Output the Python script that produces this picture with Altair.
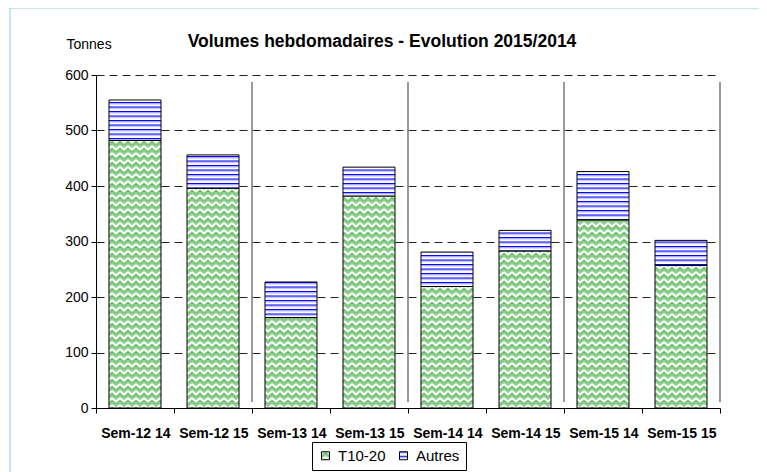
import jinja2
import altair as alt
import pandas as pd

# ---- data -------------------------------------------------------------------
weeks = ["Sem-12 14", "Sem-12 15", "Sem-13 14", "Sem-13 15",
         "Sem-14 14", "Sem-14 15", "Sem-15 14", "Sem-15 15"]
t1020 = [482, 396, 163, 382, 219, 283, 339, 257]
autres = [73, 60, 64, 52, 62, 37, 87, 45]
series = ["T10-20", "Autres"]
y_ticks = [0, 100, 200, 300, 400, 500, 600]

rows = []
for w, a, b in zip(weeks, t1020, autres):
    rows.append({"week": w, "serie": series[0], "value": a, "ord": 0})
    rows.append({"week": w, "serie": series[1], "value": b, "ord": 1})
df = pd.DataFrame(rows)
sep_df = pd.DataFrame({"week": weeks[1::2]})

FONT = "Liberation Sans"
W, H = 624, 333

xscale = alt.Scale(domain=weeks, paddingInner=0, paddingOuter=0)

frame = alt.Chart(pd.DataFrame({"k": [0]})).mark_rect(
    fill="white", fillOpacity=0, stroke="#8ccbea", strokeWidth=1
).encode(x=alt.value(-86), x2=alt.value(666), y=alt.value(-67), y2=alt.value(420))

sep = alt.Chart(sep_df).mark_rule(color="#777777", strokeWidth=1.5).encode(
    x=alt.X("week:N", scale=xscale, bandPosition=1),
    y=alt.value(7),
    y2=alt.value(327),
)

bars = alt.Chart(df).mark_bar(
    stroke="black", strokeWidth=1, width=alt.RelativeBandSize(0.667)
).encode(
    x=alt.X("week:N", scale=xscale,
            axis=alt.Axis(title=None, labelAngle=0, labelFontSize=14,
                          labelFontWeight="bold", labelColor="black",
                          labelPadding=20, labelOffset=35, tickBand="extent",
                          tickSize=5, tickColor="black", domainColor="black",
                          grid=False)),
    y=alt.Y("value:Q", stack="zero", scale=alt.Scale(domain=[0, 600], nice=False),
            axis=alt.Axis(values=y_ticks, title="Tonnes", titleAngle=0,
                          titleX=-30, titleY=-27, titleAlign="left",
                          titleBaseline="alphabetic", titleFontSize=14,
                          titleFontWeight="normal", titleColor="black",
                          labelFontSize=14, labelColor="black", labelPadding=3,
                          tickSize=5, tickColor="black", domainColor="black",
                          grid=True, gridDash=[8, 5], gridColor="#222222",
                          gridWidth=1)),
    color=alt.Color("serie:N",
                    scale=alt.Scale(domain=series, range=["url(#pgreen)", "url(#pblue)"]),
                    legend=alt.Legend(title=None, orient="none", legendX=216, legendY=367,
                                      direction="horizontal", symbolType="square",
                                      symbolSize=64, symbolStrokeColor="black",
                                      symbolStrokeWidth=1, symbolOpacity=1,
                                      labelFontSize=15, labelColor="black",
                                      strokeColor="black", padding=6,
                                      columnPadding=10, labelOffset=5)),
    order=alt.Order("ord:Q"),
)

chart = alt.layer(frame, sep, bars).properties(
    width=W, height=H,
    title=alt.TitleParams("Volumes hebdomadaires - Evolution 2015/2014",
                          fontSize=17.5, fontWeight="bold", font=FONT,
                          anchor="middle", dx=-26, offset=-56.5,
                          baseline="alphabetic", color="black"),
    padding={"left": 88, "top": 67, "right": 45, "bottom": 80},
    autosize=alt.AutoSizeParams(type="none"),
).configure(font=FONT).configure_view(strokeWidth=0)

TEMPLATE = jinja2.Template("""<!DOCTYPE html>
<html>
<head>
  <meta charset="utf-8">
  <style>
    html, body { overflow: hidden; }
    #{{ output_div }}.vega-embed { width: 100%; display: flex; }
    #{{ output_div }}.vega-embed svg { flex-shrink: 0; }
    #{{ output_div }}.vega-embed details,
    #{{ output_div }}.vega-embed details summary { position: relative; }
  </style>
  <script type="text/javascript" src="{{ base_url }}/vega@{{ vega_version }}"></script>
  <script type="text/javascript" src="{{ base_url }}/vega-lite@{{ vegalite_version }}"></script>
  <script type="text/javascript" src="{{ base_url }}/vega-embed@{{ vegaembed_version }}"></script>
</head>
<body>
  <svg width="0" height="0" style="position:absolute;left:0;top:0" aria-hidden="true">
    <defs>
      <pattern id="pgreen" patternUnits="userSpaceOnUse" width="8" height="7">
        <rect width="8" height="7" fill="#8fcf8f"/>
        <path d="M0,1 L4,4.5 L8,1" stroke="#ffffff" stroke-width="1.8" fill="none"/>
        <path d="M0,-6 L4,-2.5 L8,-6" stroke="#ffffff" stroke-width="1.8" fill="none"/>
        <path d="M0,8 L4,11.5 L8,8" stroke="#ffffff" stroke-width="1.8" fill="none"/>
        <path d="M0,4 L4,7.5 L8,4" stroke="#2e9e2e" stroke-width="0.9" stroke-dasharray="1,1.3" fill="none"/>
      </pattern>
      <pattern id="pblue" patternUnits="userSpaceOnUse" width="8" height="4.5">
        <rect width="8" height="4.5" fill="#ffffff"/>
        <rect y="0" width="8" height="1" fill="#0000ff"/>
        <rect y="1" width="8" height="1.2" fill="#9a9aff"/>
      </pattern>
    </defs>
  </svg>
  <div id="{{ output_div }}"></div>
  <script>
    (function(vegaEmbed) {
      var spec = {{ spec }};
      var embedOpt = {{ embed_options }};
      function showError(el, error){
        el.innerHTML = ('<div style="color:red;"><p>JavaScript Error: ' + error.message + '</p></div>');
        throw error;
      }
      const el = document.getElementById('{{ output_div }}');
      vegaEmbed("#{{ output_div }}", spec, embedOpt).catch(error => showError(el, error));
    })(vegaEmbed);
  </script>
</body>
</html>""")

chart.save("out.html", embed_options={"renderer": "svg", "actions": False}, template=TEMPLATE)
